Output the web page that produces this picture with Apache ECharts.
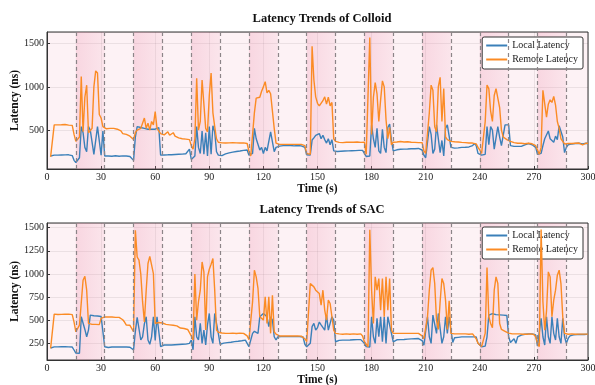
<!DOCTYPE html>
<html>
<head>
<meta charset="utf-8">
<script src="https://cdn.jsdelivr.net/npm/echarts@6/dist/echarts.min.js"></script>
<style>
  html, body { margin: 0; padding: 0; background: #fff; }
  #chart { width: 595px; height: 385px; }
</style>
</head>
<body>
<div id="chart"></div>
<script>
// one sample per second, index = time in s (first two seconds not recorded)
const colloidLocal = [
  null, null, 200, 205, 210, 212, 210, 213, 212, 214,
  213, 212, 214, 215, 205, 150, 125, 120, 180, 540,
  470, 300, 250, 540, 500, 480, 220, 210, 540, 520,
  210, 490, 200, 198, 200, 202, 198, 200, 203, 200,
  198, 200, 202, 199, 200, 198, 195, 190, 150, 420,
  540, 535, 530, 525, 520, 515, 510, 505, 510, 500,
  510, 520, 530, 210, 205, 212, 215, 214, 216, 215,
  217, 218, 218, 220, 219, 222, 224, 226, 228, 280,
  160, 170, 200, 540, 300, 230, 490, 220, 470, 200,
  540, 220, 550, 480, 250, 210, 200, 205, 215, 225,
  232, 236, 240, 245, 248, 252, 255, 258, 262, 265,
  268, 270, 210, 190, 230, 520, 400, 420, 270, 300,
  230, 300, 260, 280, 480, 490, 250, 300, 310, 315,
  318, 320, 322, 320, 318, 322, 320, 318, 320, 322,
  320, 318, 315, 300, 215, 210, 212, 385, 410, 440,
  440, 460, 400, 440, 390, 350, 400, 330, 390, 260,
  250, 252, 255, 255, 258, 258, 260, 260, 262, 262,
  262, 263, 265, 265, 266, 265, 230, 195, 190, 200,
  560, 400, 300, 520, 260, 230, 510, 300, 240, 530,
  570, 380, 260, 270, 272, 275, 278, 280, 280, 282,
  282, 285, 285, 286, 285, 288, 288, 285, 270, 210,
  180, 200, 540, 450, 230, 280, 560, 550, 240, 380,
  200, 520, 560, 570, 300, 290, 292, 295, 295, 298,
  300, 300, 302, 300, 305, 310, 320, 345, 320, 230,
  230, 210, 200, 220, 540, 330, 540, 500, 280, 260,
  540, 420, 320, 330, 560, 560, 560, 320, 315, 312,
  310, 312, 310, 312, 315, 330, 340, 345, 340, 330,
  320, 300, 220, 200, 230, 320, 400, 380, 490, 400,
  380, 360, 430, 390, 550, 550, 420, 240, 300, 330,
  335, 340, 342, 345, 345, 348, 345, 340, 345, 348,
  345
];
const colloidRemote = [
  null, null, 190, 175, 560, 565, 560, 558, 562, 560,
  565, 560, 558, 562, 555, 450, 370, 370, 420, 1120,
  480, 880, 1020, 470, 480, 520, 1000, 1185, 1160, 680,
  640, 540, 525, 515, 520, 520, 525, 520, 515, 510,
  500, 490, 460, 455, 450, 440, 430, 420, 390, 470,
  500, 490, 520, 540, 640, 520, 580, 500, 600, 560,
  715, 520, 530, 460, 450, 445, 440, 480, 440, 430,
  470, 430, 420, 410, 405, 400, 400, 395, 390, 390,
  320, 280, 400, 1100, 500, 600, 1080, 1060, 520, 480,
  900, 1160, 700, 540, 400, 360, 350, 352, 355, 350,
  355, 352, 350, 355, 358, 352, 355, 350, 355, 352,
  350, 345, 250, 200, 210, 700, 870, 890, 880, 950,
  1000, 1060, 930, 960, 920, 900, 520, 350, 340, 335,
  338, 335, 332, 335, 338, 335, 332, 335, 330, 335,
  332, 335, 330, 320, 230, 215, 220, 1470, 1080, 885,
  810, 780, 770, 840, 885, 800, 880, 780, 820, 400,
  370, 355, 358, 360, 355, 358, 360, 358, 360, 362,
  360, 358, 362, 360, 358, 362, 360, 220, 230, 1570,
  450, 880, 1050, 920, 600, 850, 1070, 1000, 620, 400,
  530, 330, 360, 365, 362, 365, 368, 365, 362, 365,
  365, 362, 360, 362, 358, 360, 355, 358, 355, 260,
  230, 250, 700, 1020, 960, 540, 480, 1000, 1110, 600,
  980, 420, 390, 380, 370, 368, 365, 365, 362, 360,
  358, 355, 355, 352, 350, 348, 350, 345, 340, 300,
  270, 230, 220, 600, 1020, 980, 720, 600, 900, 980,
  990, 760, 500, 420, 400, 390, 380, 370, 360, 355,
  350, 348, 345, 348, 345, 342, 345, 348, 345, 342,
  340, 320, 270, 220, 300, 960, 940, 650, 800, 850,
  820, 890, 790, 600, 520, 400, 370, 340, 330, 345,
  348, 345, 350, 348, 345, 350, 345, 330, 345, 350,
  345
];
const sacLocal = [
  null, null, 200, 205, 212, 213, 212, 214, 213, 212,
  214, 213, 212, 213, 210, 178, 145, 140, 142, 537,
  537, 400, 321, 393, 555, 550, 548, 545, 545, 540,
  540, 540, 213, 200, 205, 208, 210, 210, 212, 210,
  210, 212, 210, 212, 210, 210, 208, 205, 180, 380,
  530, 535, 286, 320, 460, 537, 286, 240, 320, 537,
  280, 537, 550, 215, 230, 232, 230, 232, 233, 232,
  233, 235, 236, 238, 238, 240, 240, 242, 243, 250,
  286, 180, 537, 320, 286, 465, 250, 393, 232, 450,
  573, 320, 250, 573, 555, 358, 240, 250, 252, 255,
  258, 260, 262, 265, 268, 270, 272, 275, 278, 280,
  285, 288, 215, 210, 358, 380, 393, 358, 537, 555,
  573, 555, 537, 430, 537, 501, 321, 286, 320, 322,
  322, 320, 322, 325, 322, 320, 322, 325, 322, 320,
  322, 320, 318, 240, 213, 210, 250, 430, 465, 393,
  420, 480, 450, 430, 393, 555, 393, 465, 537, 500,
  267, 280, 282, 285, 285, 286, 285, 288, 286, 288,
  288, 290, 290, 288, 290, 285, 250, 215, 213, 210,
  537, 321, 250, 520, 321, 537, 267, 537, 250, 537,
  555, 358, 267, 285, 288, 290, 290, 292, 292, 295,
  295, 296, 298, 298, 300, 300, 302, 300, 280, 230,
  213, 537, 321, 250, 555, 573, 358, 573, 555, 250,
  321, 537, 358, 537, 393, 260, 310, 312, 315, 318,
  320, 318, 320, 322, 320, 322, 320, 322, 320, 250,
  230, 213, 215, 220, 321, 555, 573, 570, 565, 560,
  560, 558, 555, 555, 555, 550, 321, 260, 240, 300,
  250, 320, 330, 340, 345, 348, 350, 352, 350, 352,
  350, 340, 220, 213, 520, 321, 232, 537, 321, 250,
  537, 358, 286, 520, 321, 250, 520, 321, 250, 303,
  330, 340, 342, 345, 345, 342, 345, 348, 345, 350,
  350
];
const sacRemote = [
  null, null, 196, 190, 566, 560, 562, 565, 563, 566,
  565, 568, 566, 564, 560, 480, 375, 380, 447, 447,
  932, 975, 824, 465, 460, 455, 450, 455, 450, 452,
  520, 537, 535, 532, 535, 530, 535, 532, 530, 532,
  530, 520, 505, 480, 447, 447, 445, 440, 375, 1471,
  1183, 1148, 1000, 700, 480, 820, 1112, 1190, 1185, 1004,
  465, 483, 475, 478, 470, 460, 455, 465, 450, 445,
  445, 440, 438, 420, 415, 412, 410, 411, 400, 390,
  330, 286, 1000, 500, 700, 824, 1129, 1022, 393, 968,
  1050, 1105, 1166, 824, 393, 370, 364, 362, 360, 358,
  360, 358, 358, 360, 358, 356, 358, 360, 358, 358,
  356, 330, 290, 280, 700, 1040, 968, 843, 537, 537,
  501, 752, 465, 752, 358, 770, 375, 350, 330, 330,
  332, 330, 328, 330, 332, 330, 328, 330, 332, 330,
  330, 328, 330, 300, 267, 265, 896, 914, 860, 824,
  842, 788, 663, 824, 609, 501, 717, 680, 537, 393,
  358, 350, 352, 350, 348, 350, 352, 350, 348, 350,
  352, 350, 348, 350, 352, 330, 267, 240, 213, 1478,
  824, 465, 968, 824, 950, 609, 950, 537, 968, 609,
  950, 393, 358, 360, 358, 360, 358, 356, 358, 360,
  358, 360, 358, 356, 358, 360, 358, 356, 330, 300,
  280, 537, 824, 1040, 1069, 896, 500, 400, 700, 950,
  896, 717, 400, 710, 358, 355, 352, 355, 352, 350,
  352, 350, 352, 350, 348, 350, 352, 350, 300, 250,
  230, 215, 220, 360, 1069, 537, 465, 420, 824, 968,
  896, 465, 400, 390, 380, 370, 360, 355, 352, 350,
  352, 350, 352, 350, 348, 350, 348, 350, 352, 350,
  345, 320, 250, 215, 1480, 700, 393, 600, 1022, 968,
  537, 717, 824, 986, 1040, 896, 537, 358, 350, 348,
  350, 352, 350, 348, 352, 350, 348, 350, 352, 350,
  350
];
// phase switches (dashed lines) and the shaded hot phases
const phaseLines = [16, 32, 48, 64, 80, 96, 112, 128, 144, 160, 176, 192, 208, 224, 240, 256, 272, 288];
const hotPhases = [[16, 32], [48, 64], [80, 96], [112, 128], [144, 160], [176, 192], [208, 224], [240, 256], [272, 288]];
const titles = ['Latency Trends of Colloid', 'Latency Trends of SAC'];
const seriesNames = ['Local Latency', 'Remote Latency'];

const SERIF = 'Liberation Serif';
const BLUE = '#3b80b9';
const ORANGE = '#fb8b24';

const toPairs = arr => arr.map((v, t) => [t, v]);

let myChart = echarts.init(document.getElementById('chart'), null, {renderer: 'canvas'});

function xAxisFor(i) {
  return {
    type: 'value', gridIndex: i, min: 0, max: 300, interval: 30,
    name: 'Time (s)', nameLocation: 'middle', nameGap: 12,
    nameTextStyle: {fontFamily: SERIF, fontWeight: 'bold', fontSize: 11.5, color: '#111'},
    axisLine: {show: true, lineStyle: {color: '#333', width: 1}},
    axisTick: {show: true, inside: true, length: 3, lineStyle: {color: '#333'}},
    axisLabel: {fontFamily: SERIF, fontSize: 10, color: '#222', margin: 3},
    splitLine: {show: true, lineStyle: {color: 'rgba(0,0,0,0.07)', width: 1}}
  };
}
function yAxisFor(i, min, max, step) {
  return {
    type: 'value', gridIndex: i, min: min, max: max,
    minInterval: step, maxInterval: step,
    name: 'Latency (ns)', nameLocation: 'middle', nameGap: 26, nameMoveOverlap: false,
    nameTextStyle: {fontFamily: SERIF, fontWeight: 'bold', fontSize: 11.5, color: '#111'},
    axisLine: {show: true, lineStyle: {color: '#333', width: 1}},
    axisTick: {show: true, inside: true, length: 3, lineStyle: {color: '#333'}},
    axisLabel: {fontFamily: SERIF, fontSize: 10, color: '#222', margin: 3,
                showMinLabel: false, showMaxLabel: false, formatter: v => String(v)},
    splitLine: {show: true, lineStyle: {color: 'rgba(0,0,0,0.07)', width: 1}}
  };
}
function phaseSeries(i) {
  return {
    type: 'line', xAxisIndex: i, yAxisIndex: i, data: [], silent: true, z: 1,
    markArea: {
      silent: true,
      itemStyle: {
        color: {type: 'linear', x: 0, y: 0, x2: 1, y2: 0, colorStops: [
          {offset: 0, color: 'rgba(238,150,178,0.30)'},
          {offset: 1, color: 'rgba(238,150,178,0.14)'}
        ]}
      },
      data: hotPhases.map(p => [{xAxis: p[0]}, {xAxis: p[1]}])
    },
    markLine: {
      silent: true, symbol: ['none', 'none'], label: {show: false},
      lineStyle: {color: '#8c8588', type: [4, 3], width: 1.2},
      data: phaseLines.map(x => ({xAxis: x}))
    }
  };
}
function lineSeries(i, name, data, color, z) {
  return {
    name: name, type: 'line', xAxisIndex: i, yAxisIndex: i,
    data: toPairs(data), symbol: 'none', showSymbol: false, z: z,
    lineStyle: {color: color, width: 1.4},
    itemStyle: {color: color}
  };
}
function legendFor(top) {
  return {
    data: seriesNames, orient: 'vertical', right: 12, top: top,
    icon: 'rect', itemWidth: 21, itemHeight: 2, itemGap: 3,
    padding: [3, 5, 4, 4],
    backgroundColor: '#fff', borderColor: '#333', borderWidth: 1, borderRadius: 2,
    textStyle: {fontFamily: SERIF, fontSize: 10, color: '#222', lineHeight: 11}
  };
}
function gridAt(top) {
  return {
    left: 47, right: 7, top: top, height: 137,
    containLabel: false, outerBoundsMode: 'none',
    show: true, borderColor: '#333', borderWidth: 1, backgroundColor: '#fdf2f5'
  };
}

option = {
  animation: false,
  backgroundColor: '#fff',
  title: [
    {text: titles[0], left: 317, top: 7, textAlign: 'center',
     textStyle: {fontFamily: SERIF, fontWeight: 'bold', fontSize: 12.5, color: '#111'}},
    {text: titles[1], left: 317, top: 198, textAlign: 'center',
     textStyle: {fontFamily: SERIF, fontWeight: 'bold', fontSize: 12.5, color: '#111'}}
  ],
  legend: [legendFor(37), legendFor(227)],
  grid: [gridAt(32), gridAt(223)],
  xAxis: [xAxisFor(0), xAxisFor(1)],
  yAxis: [yAxisFor(0, 50, 1635, 500), yAxisFor(1, 70, 1550, 250)],
  series: [
    phaseSeries(0),
    lineSeries(0, seriesNames[0], colloidLocal, BLUE, 3),
    lineSeries(0, seriesNames[1], colloidRemote, ORANGE, 4),
    phaseSeries(1),
    lineSeries(1, seriesNames[0], sacLocal, BLUE, 3),
    lineSeries(1, seriesNames[1], sacRemote, ORANGE, 4)
  ]
};
myChart.setOption(option);
</script>
</body>
</html>
